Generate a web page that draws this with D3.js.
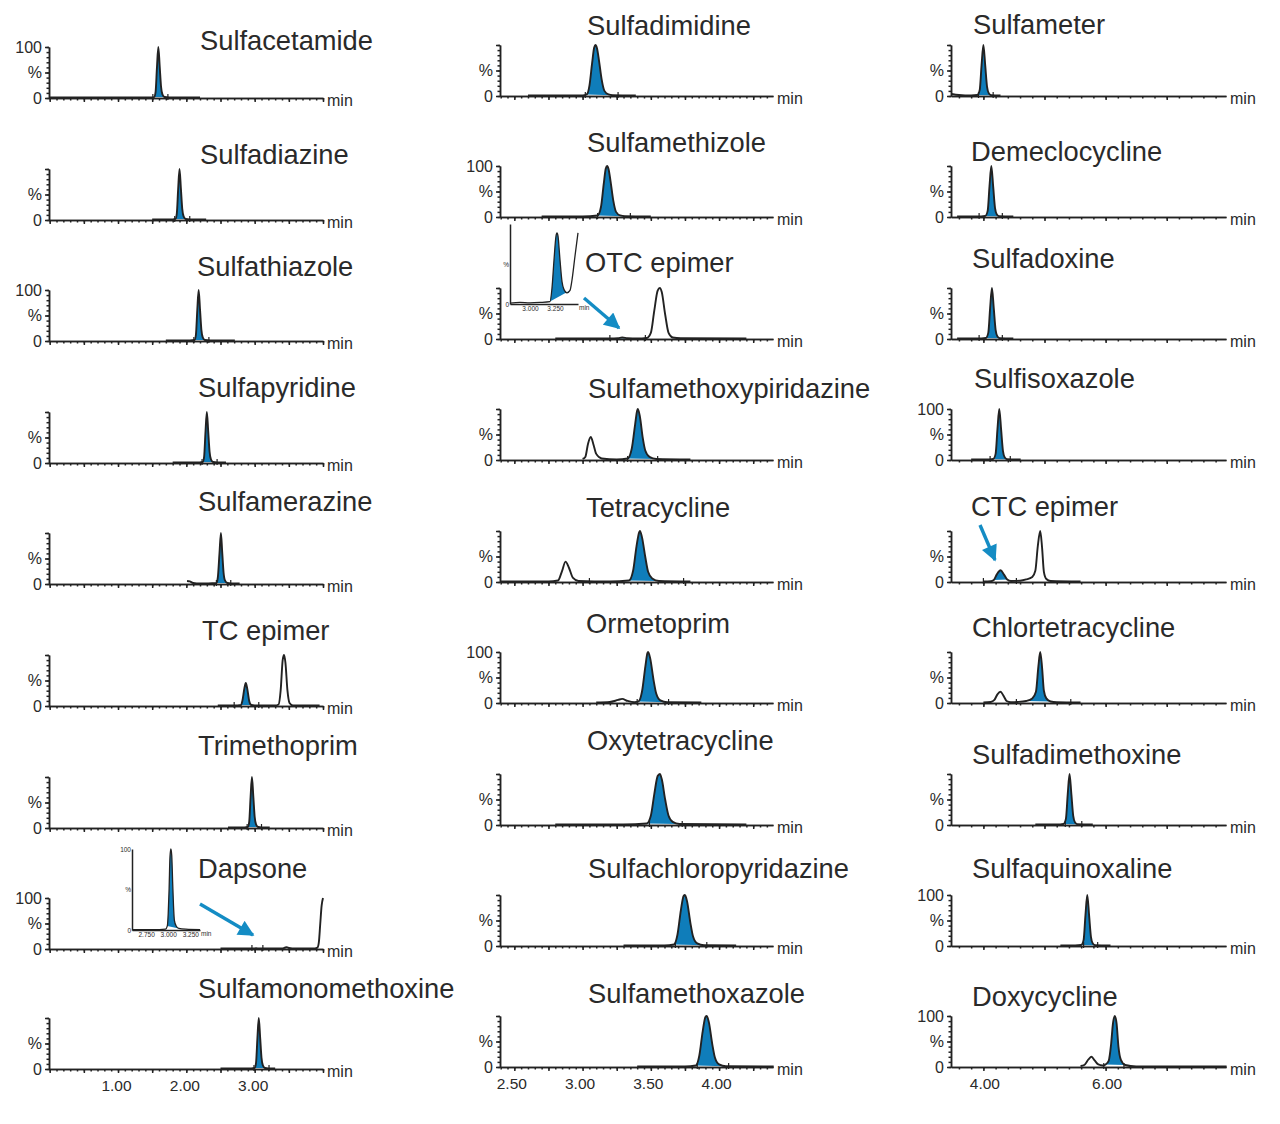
<!DOCTYPE html>
<html><head><meta charset="utf-8">
<script src="https://cdn.jsdelivr.net/npm/d3@7"></script>
<style>
html,body{margin:0;background:#fff}
svg{display:block}
text{font-family:"Liberation Sans",Arial,sans-serif;fill:#2a2a2a}
.axis path,.axis line{stroke:#222;stroke-width:1.5;fill:none}
.trace{fill:none;stroke:#222;stroke-linejoin:round}
.peak{fill:#0f7dba;stroke:none}
.mark{stroke:#222;stroke-width:1.2}
</style></head><body>
<script>
// ---- names, per column
const col1Names=["Sulfacetamide","Sulfadiazine","Sulfathiazole","Sulfapyridine","Sulfamerazine","TC epimer","Trimethoprim","Dapsone","Sulfamonomethoxine"];
const col2Names=["Sulfadimidine","Sulfamethizole","OTC epimer","Sulfamethoxypiridazine","Tetracycline","Ormetoprim","Oxytetracycline","Sulfachloropyridazine","Sulfamethoxazole"];
const col3Names=["Sulfameter","Demeclocycline","Sulfadoxine","Sulfisoxazole","CTC epimer","Chlortetracycline","Sulfadimethoxine","Sulfaquinoxaline","Doxycycline"];
// ---- tick labels
const col1Labels=[1,2,3];
const col2Labels=[2.5,3,3.5,4];
const col3Labels=[4,6];
// ---- panels that print "100"
const show100=["Sulfacetamide","Sulfathiazole","Dapsone","Sulfamethizole","Ormetoprim","Sulfisoxazole","Sulfaquinoxaline","Doxycycline"];
// ---- traces: [min, %]
const sulfacetamide=[[0,1],[0.8,1],[1.5,1],[1.53,2],[1.55,12],[1.57,60],[1.59,100],[1.61,62],[1.63,22],[1.65,7],[1.68,2],[1.75,1],[2.2,1]];
const sulfadiazine=[[1.5,1],[1.8,1],[1.84,2],[1.86,12],[1.88,60],[1.9,100],[1.92,62],[1.94,22],[1.96,7],[1.99,2],[2.05,1],[2.29,1]];
const sulfathiazole=[[1.7,1],[2.05,1],[2.12,2],[2.14,12],[2.16,60],[2.18,100],[2.2,62],[2.22,22],[2.24,7],[2.27,2],[2.35,1],[2.71,1]];
const sulfapyridine=[[1.8,1],[2.15,1],[2.24,2],[2.26,12],[2.28,60],[2.3,100],[2.32,62],[2.34,22],[2.36,7],[2.39,2],[2.45,1],[2.58,1]];
const sulfamerazine=[[2.01,6],[2.05,5],[2.1,2],[2.2,1],[2.44,2],[2.46,12],[2.485,60],[2.506,100],[2.525,62],[2.545,22],[2.565,7],[2.6,2],[2.65,1],[2.78,1]];
const tcEpimer=[[2.46,1],[2.75,1],[2.8,2],[2.82,10],[2.85,35],[2.87,45],[2.89,35],[2.92,10],[2.95,2],[3.0,1],[3.3,1],[3.35,3],[3.38,30],[3.41,90],[3.43,100],[3.45,85],[3.48,30],[3.51,6],[3.56,1],[3.95,1]];
const trimethoprim=[[2.61,1],[2.85,1],[2.9,2],[2.92,12],[2.94,60],[2.96,100],[2.98,62],[3.0,22],[3.02,7],[3.05,2],[3.1,1],[3.22,1]];
const dapsone=[[2.5,1],[2.97,1],[3.02,1.5],[3.07,1],[3.4,1],[3.44,2.5],[3.47,3.5],[3.5,2],[3.55,1],[3.88,1],[3.92,3],[3.94,14],[3.96,50],[3.98,85],[4.0,100]];
const sulfamonomethoxine=[[2.5,1],[2.95,1],[3.0,2],[3.02,12],[3.04,60],[3.06,100],[3.08,62],[3.1,22],[3.12,7],[3.15,2],[3.2,1],[3.3,1]];
const sulfadimidine=[[2.6,1],[2.9,1],[3.0,1],[3.03,3],[3.05,20],[3.07,65],[3.085,95],[3.095,100],[3.105,94],[3.12,70],[3.14,32],[3.16,10],[3.19,3],[3.22,1.5],[3.39,1]];
const sulfamethizole=[[2.7,1],[3.0,1],[3.11,3],[3.135,20],[3.155,65],[3.17,95],[3.18,100],[3.19,94],[3.205,70],[3.225,32],[3.245,10],[3.275,3],[3.31,1.5],[3.5,1]];
const otcEpimer=[[2.8,1],[3.2,1],[3.26,1.5],[3.29,3],[3.33,1.5],[3.4,1],[3.47,2],[3.5,12],[3.525,55],[3.55,95],[3.566,100],[3.58,92],[3.605,48],[3.63,12],[3.66,3],[3.72,1.5],[4.2,1]];
const methoxypiridazine=[[3.0,2],[3.02,6],[3.04,32],[3.06,45],[3.08,30],[3.1,12],[3.14,3],[3.25,1],[3.33,3],[3.36,22],[3.385,70],[3.4,97],[3.405,100],[3.42,85],[3.44,45],[3.46,18],[3.49,6],[3.54,2],[3.79,1]];
const tetracycline=[[2.4,1],[2.75,1],[2.82,3],[2.85,22],[2.875,40],[2.9,28],[2.93,8],[2.97,2],[3.2,1],[3.34,3],[3.37,22],[3.395,70],[3.415,98],[3.42,100],[3.435,88],[3.46,48],[3.48,20],[3.51,7],[3.56,2],[3.79,1]];
const ormetoprim=[[3.1,1],[3.2,2],[3.26,6],[3.29,8],[3.33,4],[3.38,1.5],[3.41,3],[3.435,22],[3.46,72],[3.475,98],[3.48,100],[3.495,88],[3.52,45],[3.54,18],[3.57,5],[3.62,1.5],[3.87,1]];
const oxytetracycline=[[2.8,1],[3.3,1],[3.47,3],[3.5,18],[3.525,60],[3.55,96],[3.566,100],[3.58,90],[3.605,50],[3.63,18],[3.66,6],[3.71,2],[4.2,1]];
const chloropyridazine=[[3.3,1],[3.6,1],[3.67,3],[3.695,22],[3.72,70],[3.74,98],[3.75,100],[3.765,88],[3.79,45],[3.81,18],[3.84,5],[3.89,1.5],[4.125,1]];
const sulfamethoxazole=[[3.4,1],[3.75,1],[3.83,3],[3.855,22],[3.88,70],[3.9,98],[3.91,100],[3.925,88],[3.95,45],[3.97,18],[4.0,5],[4.05,1.5],[4.4,1]];
const sulfameter=[[3.48,4],[3.6,2],[3.8,1],[3.9,2],[3.94,12],[3.97,60],[4.0,100],[4.03,60],[4.06,18],[4.09,5],[4.13,1.5],[4.28,1]];
const demeclocycline=[[3.57,1],[3.9,1],[4.03,2],[4.07,12],[4.1,60],[4.13,100],[4.16,60],[4.19,18],[4.22,5],[4.26,1.5],[4.49,1]];
const sulfadoxine=[[3.57,1],[3.9,1],[4.04,2],[4.08,12],[4.11,60],[4.14,100],[4.17,60],[4.2,18],[4.23,5],[4.27,1.5],[4.49,1]];
const sulfisoxazole=[[3.8,1],[4.05,1],[4.16,2],[4.2,12],[4.23,60],[4.26,100],[4.29,60],[4.32,18],[4.35,5],[4.39,1.5],[4.61,1]];
const ctcEpimer=[[4.0,1],[4.12,1.5],[4.17,4],[4.22,15],[4.28,23],[4.34,14],[4.39,5],[4.45,2],[4.6,2.5],[4.7,5],[4.8,10],[4.85,22],[4.89,70],[4.93,100],[4.96,68],[4.99,20],[5.03,6],[5.1,2],[5.59,1]];
const chlortetracycline=[[4.0,1],[4.12,2],[4.18,6],[4.23,17],[4.28,22],[4.33,14],[4.38,4],[4.45,1.5],[4.56,2],[4.7,4],[4.8,9],[4.86,22],[4.9,72],[4.93,100],[4.96,70],[4.99,24],[5.03,9],[5.1,3],[5.2,1.5],[5.59,1]];
const sulfadimethoxine=[[4.85,1],[5.2,1],[5.31,2],[5.35,12],[5.38,60],[5.41,100],[5.44,60],[5.47,18],[5.5,5],[5.54,1.5],[5.79,1]];
const sulfaquinoxaline=[[5.26,1],[5.5,1],[5.6,2],[5.64,12],[5.67,60],[5.7,100],[5.73,60],[5.76,18],[5.79,5],[5.83,1.5],[6.08,1]];
const doxycycline=[[5.59,2],[5.65,4],[5.72,15],[5.77,20],[5.82,13],[5.88,5],[5.95,3],[6.0,5],[6.05,12],[6.09,45],[6.12,85],[6.15,100],[6.18,85],[6.21,40],[6.25,14],[6.32,4],[6.5,1],[7.98,1]];
// ---- inset traces
const dapsoneInset=[[2.59,.5],[2.9,.5],[2.97,1],[2.99,5],[3,20],[3.01,50],[3.02,90],[3.03,100],[3.04,92],[3.05,60],[3.06,30],[3.07,12],[3.09,5],[3.12,2],[3.2,1],[3.36,.5]];
const otcInset=[[2.8,1],[2.9,2],[3,1.5],[3.1,2],[3.2,3],[3.22,20],[3.24,55],[3.26,85],[3.27,89],[3.28,85],[3.3,55],[3.32,28],[3.34,18],[3.37,14],[3.4,17],[3.42,30],[3.45,60],[3.48,89]];
// ---- traces, integrated ranges, integration marks per column
const col1Traces=[sulfacetamide,sulfadiazine,sulfathiazole,sulfapyridine,sulfamerazine,tcEpimer,trimethoprim,dapsone,sulfamonomethoxine];
const col2Traces=[sulfadimidine,sulfamethizole,otcEpimer,methoxypiridazine,tetracycline,ormetoprim,oxytetracycline,chloropyridazine,sulfamethoxazole];
const col3Traces=[sulfameter,demeclocycline,sulfadoxine,sulfisoxazole,ctcEpimer,chlortetracycline,sulfadimethoxine,sulfaquinoxaline,doxycycline];
const col1Peaks=[[1.53,1.68],[1.84,1.99],[2.12,2.27],[2.24,2.39],[2.44,2.6],[2.8,2.95],[2.9,3.05],[2.97,3.07],[3.0,3.15]];
const col2Peaks=[[3.03,3.22],[3.11,3.31],[3.26,3.33],[3.33,3.54],[3.34,3.56],[3.41,3.62],[3.47,3.71],[3.67,3.89],[3.83,4.05]];
const col3Peaks=[[3.9,4.13],[4.03,4.26],[4.04,4.27],[4.16,4.39],[4.17,4.39],[4.7,5.1],[5.31,5.54],[5.6,5.83],[6.0,6.32]];
const col1Marks=[[1.51,1.73],[1.83,2.05],[2.11,2.33],[2.23,2.45],[2.44,2.65],[2.7,3.06],[2.89,3.1],[2.96,3.12],[2.99,3.21]];
const col2Marks=[[3.02,3.26],[3.11,3.35],[3.2,3.46],[3.33,3.55],[3.05,3.74],[3.4,3.63],[3.49,3.73],[3.68,3.91],[3.84,4.07]];
const col3Marks=[[3.92,4.16],[3.93,4.31],[3.93,4.31],[4.11,4.44],[4,4.54],[4.54,5.43],[5.34,5.61],[5.64,5.87],[5.97,6.3]];

// ---- layout
const W=1280,H=1124,plotH=51;
const columns=[
 {names:col1Names,traces:col1Traces,peaks:col1Peaks,marks:col1Marks,labels:col1Labels,dom:[-0.01,4.0],rng:[49,323],major:0.5,labelDx:-2,
  base:[98,220,341,463,584,706,828,949,1069],
  tx:[200,200,197,198,198,202,198,198,198],ty:[49,163,275,396,510,639,754,877,997]},
 {names:col2Names,traces:col2Traces,peaks:col2Peaks,marks:col2Marks,labels:col2Labels,dom:[2.395,4.395],rng:[500,773],major:0.25,labelDx:-3,
  base:[96,217,339,460,582,703,825,946,1067],
  tx:[587,587,585,588,586,586,587,588,588],ty:[34,151,271,397,516,632,749,877,1002]},
 {names:col3Names,traces:col3Traces,peaks:col3Peaks,marks:col3Marks,labels:col3Labels,dom:[3.47,7.97],rng:[951,1226],major:1,labelDx:1,
  base:[96,217,339,460,582,703,825,946,1067],
  tx:[973,971,972,974,971,972,972,972,972],ty:[33,160,267,387,515,636,763,877,1005]}
];
const svg=d3.select("body").append("svg").attr("width",W).attr("height",H);
const fmt=d3.format(".2f");
const fontStyle=s=>s.style("font-family",'"Liberation Sans",Arial,sans-serif').style("fill","#2a2a2a");

function ticksBetween(dom,step){const a=[];const i0=Math.ceil(dom[0]/step-1e-6),i1=Math.floor(dom[1]/step+1e-6);for(let i=i0;i<=i1;i++)a.push(+(i*step).toFixed(4));return a;}

function drawTrace(g,pts,rng,x,y,sw){
  const line=d3.line().x(d=>x(d[0])).y(d=>y(d[1])).curve(d3.curveMonotoneX);
  if(rng){
    const sub=pts.filter(d=>d[0]>=rng[0]&&d[0]<=rng[1]);
    g.append("path").attr("class","peak").attr("d",line(sub)+"Z");
  }
  g.append("path").attr("class","trace").attr("d",line(pts)).style("stroke-width",sw);
}

columns.forEach(c=>{
  const x=d3.scaleLinear().domain(c.dom).range(c.rng);
  c.names.forEach((name,i)=>{
    const b=c.base[i];
    const y=d3.scaleLinear().domain([0,100]).range([b,b-plotH]);
    const g=svg.append("g");
    const last=i===c.names.length-1;
    const minorVals=ticksBetween(c.dom,c.major/5);
    const majorVals=ticksBetween(c.dom,c.major);
    g.append("g").attr("class","axis").attr("transform",`translate(0,${b})`)
      .call(d3.axisBottom(x).tickValues(minorVals).tickSize(2.5).tickFormat("").tickSizeOuter(0));
    g.append("g").attr("class","axis").attr("transform",`translate(0,${b})`)
      .call(d3.axisBottom(x).tickValues(majorVals).tickSize(4).tickSizeOuter(0)
        .tickFormat(d=>last&&c.labels.includes(d)?fmt(d):""))
      .call(a=>fontStyle(a.selectAll("text").attr("font-size",15.5).attr("y",11).attr("dx",c.labelDx)));
    g.append("g").attr("class","axis").attr("transform",`translate(${c.rng[0]},0)`)
      .call(d3.axisLeft(y).tickValues(d3.range(0,101,10)).tickSize(2.5).tickFormat("").tickSizeOuter(0));
    g.append("g").attr("class","axis").attr("transform",`translate(${c.rng[0]},0)`)
      .call(d3.axisLeft(y).tickValues([0,50,100]).tickSize(4).tickSizeOuter(0)
        .tickFormat(d=>d===50?"%":d===0?"0":show100.includes(name)?"100":""))
      .call(a=>fontStyle(a.selectAll("text").attr("font-size",16).attr("x",-7)));
    drawTrace(g,c.traces[i],c.peaks[i],x,y,1.9);
    c.marks[i].forEach(t=>g.append("line").attr("class","mark").attr("x1",x(t)).attr("x2",x(t)).attr("y1",b-4).attr("y2",b+2));
    g.append("text").attr("x",c.rng[1]+4).attr("y",b+8).attr("font-size",16).text("min");
    g.append("text").attr("x",c.tx[i]).attr("y",c.ty[i]+0.5).attr("font-size",27.3).text(name);
  });
});

// ---- insets
function inset(cfg){
  const x=d3.scaleLinear().domain(cfg.dom).range(cfg.rx),y=d3.scaleLinear().domain([0,100]).range(cfg.ry);
  const g=svg.append("g");
  drawTrace(g,cfg.pts,cfg.peak,x,y,1.3);
  g.append("g").attr("class","axis").attr("transform",`translate(0,${cfg.ry[0]})`)
    .call(d3.axisBottom(x).tickValues(cfg.ticks).tickSize(0).tickSizeOuter(0).tickFormat(d3.format(".3f")))
    .call(a=>fontStyle(a.selectAll("text").attr("font-size",6.5).attr("y",2)));
  g.append("g").attr("class","axis").attr("transform",`translate(${cfg.rx[0]},0)`)
    .call(d3.axisLeft(y).tickValues(cfg.yticks).tickSize(0).tickSizeOuter(0).tickFormat(d=>d===50?"%":d))
    .call(a=>fontStyle(a.selectAll("text").attr("font-size",6.5).attr("x",-1)));
  g.append("text").attr("x",cfg.rx[1]+cfg.minDx).attr("y",cfg.ry[0]+6).attr("font-size",6.5).text("min");
}
inset({pts:dapsoneInset,peak:[2.99,3.12],dom:[2.59,3.36],rx:[132,200],ry:[930,849],ticks:[2.75,3,3.25],yticks:[0,50,100],minDx:1});
inset({pts:otcInset,peak:[3.2,3.4],dom:[2.8,3.48],rx:[510,578],ry:[304,224],ticks:[3,3.25],yticks:[0,50],minDx:1});

// ---- arrows
svg.append("defs").append("marker").attr("id","ah").attr("viewBox","0 0 10 10").attr("refX",9).attr("refY",5)
  .attr("markerUnits","userSpaceOnUse").attr("markerWidth",17).attr("markerHeight",16).attr("orient","auto")
  .append("path").attr("d","M0,0L10,5L0,10Z").attr("fill","#148cc4");
const arrows=[[200,904,253,935],[584,298,619,328],[980,525,995,560]];
svg.selectAll("line.arrow").data(arrows).join("line").attr("class","arrow")
  .attr("x1",d=>d[0]).attr("y1",d=>d[1]).attr("x2",d=>d[2]).attr("y2",d=>d[3])
  .attr("stroke","#148cc4").attr("stroke-width",3.4).attr("marker-end","url(#ah)");
</script>
</body></html>
